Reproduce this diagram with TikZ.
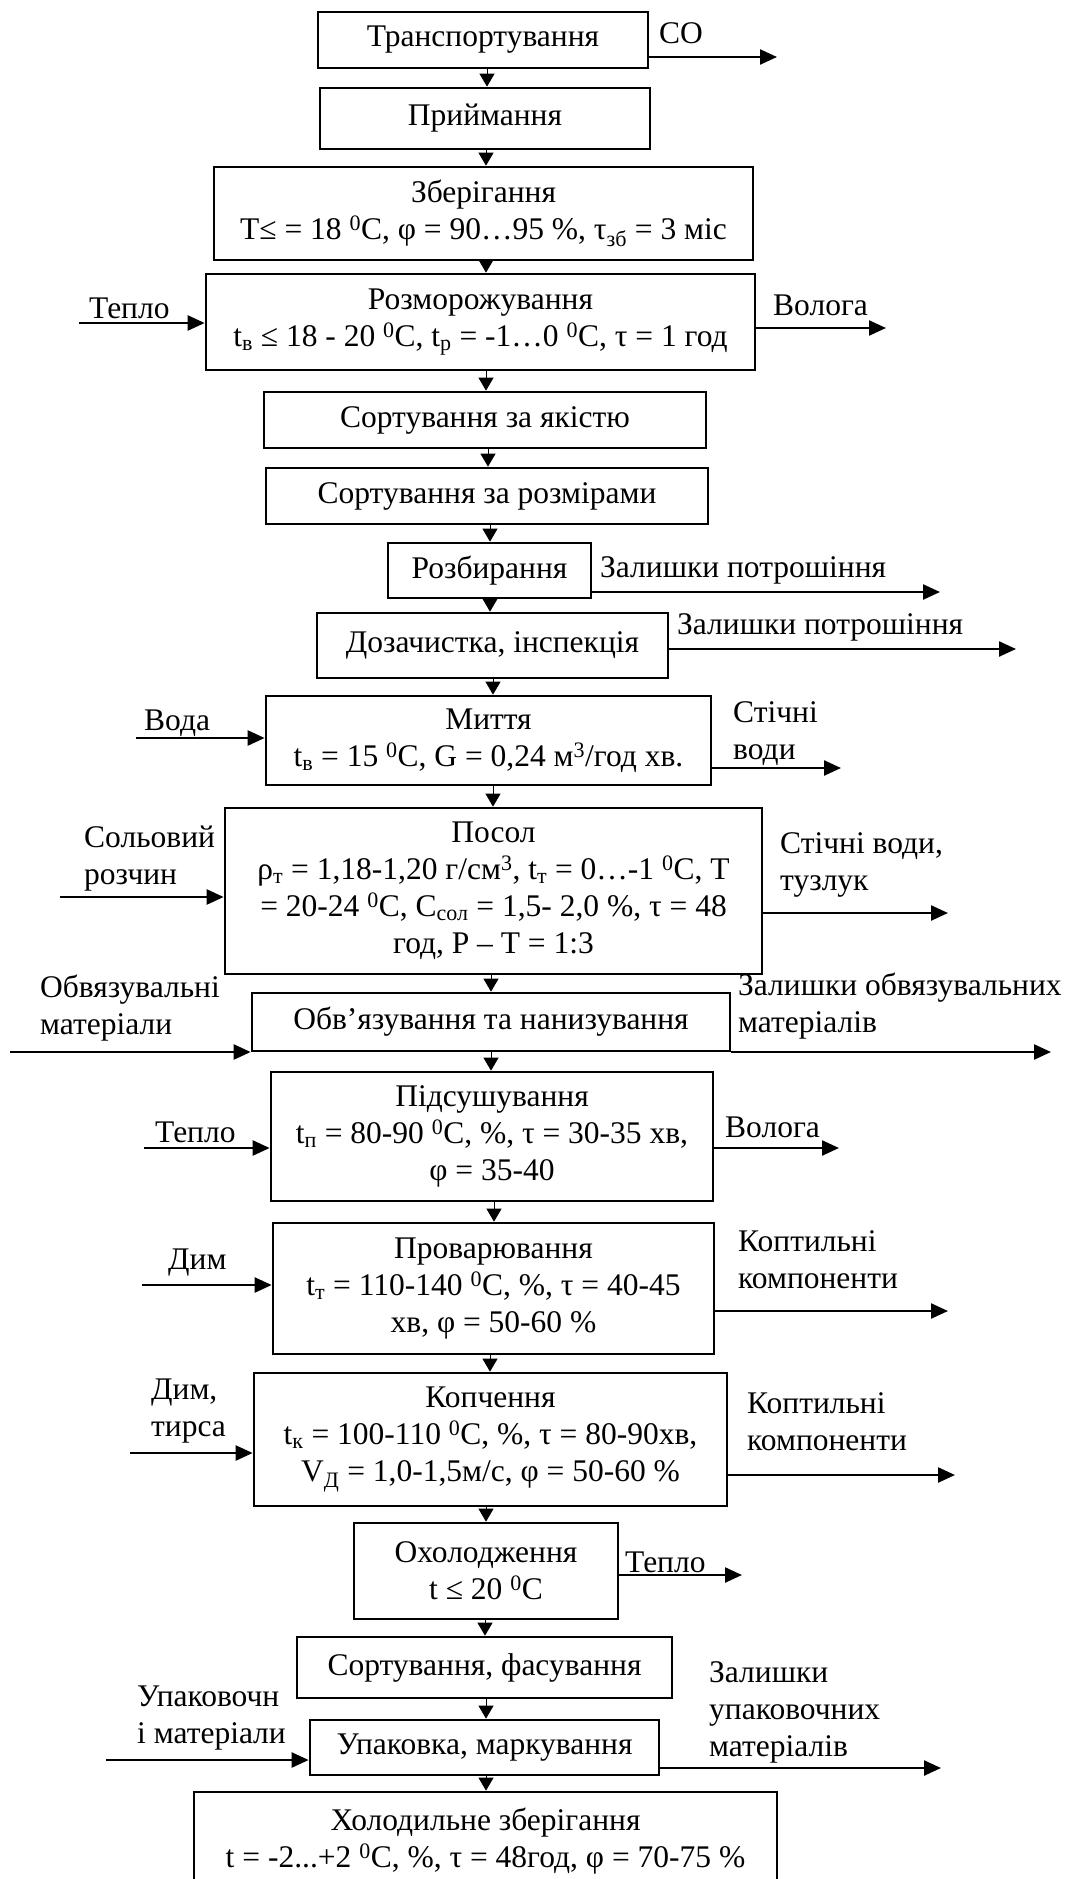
\documentclass[tikz,border=0pt]{standalone}
\usepackage{fontspec}
\setmainfont{Liberation Serif}
\usetikzlibrary{arrows.meta}
\tikzset{
  box/.style={draw, line width=2.7pt, inner sep=0pt, align=center, font=\fontsize{31.5}{37}\selectfont},
  lbl/.style={inner sep=0pt, anchor=west, align=left, font=\fontsize{31.5}{37}\selectfont},
  side/.style={line width=2.4pt, -{Triangle[length=17pt,width=15pt]}},
  vconn/.style={line width=1pt, -{Triangle[length=13pt,width=15pt]}},
}
\newcommand{\supx}[1]{\textsuperscript{#1}}
\newcommand{\sbs}[1]{\textsubscript{#1}}
\begin{document}
\begin{tikzpicture}[x=1pt,y=-1pt]
\useasboundingbox (0,0) rectangle (1077,1879);
% boxes
\node[box, minimum width=330pt, minimum height=56pt] (b1) at (483,40) {Транспортування};
\node[box, minimum width=330pt, minimum height=61pt] (b2) at (485,118.5) {Приймання};
\node[box, minimum width=539pt, minimum height=93pt] (b3) at (483.5,213.5) {Зберігання\\T≤ = 18 \supx{0}C, φ = 90…95 \%, τ\sbs{зб} = 3 міс};
\node[box, minimum width=549pt, minimum height=96pt] (b4) at (480.5,322) {Розморожування\\t\sbs{в} ≤ 18 - 20 \supx{0}C, t\sbs{р} = -1…0 \supx{0}C, τ = 1 год};
\node[box, minimum width=442pt, minimum height=56pt] (b5) at (485,420) {Сортування за якістю};
\node[box, minimum width=442pt, minimum height=56pt] (b6) at (487,496) {Сортування за розмірами};
\node[box, minimum width=203pt, minimum height=55pt] (b7) at (489.5,570.5) {Розбирання};
\node[box, minimum width=351pt, minimum height=65pt] (b8) at (492.5,645.5) {Дозачистка, інспекція};
\node[box, minimum width=445pt, minimum height=89pt] (b9) at (488.5,740.5) {Миття\\t\sbs{в} = 15 \supx{0}C, G = 0,24 м\supx{3}/год хв.};
\node[box, minimum width=537pt, minimum height=166pt] (b10) at (493.5,891) {Посол\\ρ\sbs{т} = 1,18-1,20 г/см\supx{3}, t\sbs{т} = 0…-1 \supx{0}C, T\\= 20-24 \supx{0}C, C\sbs{сол} = 1,5- 2,0 \%, τ = 48\\год, Р – Т = 1:3};
\node[box, minimum width=478pt, minimum height=58pt] (b11) at (491,1022) {Обв’язування та нанизування};
\node[box, minimum width=442pt, minimum height=129pt] (b12) at (492,1136.5) {Підсушування\\t\sbs{п} = 80-90 \supx{0}C, \%, τ = 30-35 хв,\\φ = 35-40};
\node[box, minimum width=441pt, minimum height=131pt] (b13) at (493.5,1288.5) {Проварювання\\t\sbs{т} = 110-140 \supx{0}C, \%, τ = 40-45\\хв, φ = 50-60 \%};
\node[box, minimum width=473pt, minimum height=133pt] (b14) at (490.5,1439.5) {Копчення\\t\sbs{к} = 100-110 \supx{0}C, \%, τ = 80-90хв,\\V\sbs{Д} = 1,0-1,5м/с, φ = 50-60 \%};
\node[box, minimum width=264pt, minimum height=96pt] (b15) at (486,1571) {Охолодження\\t ≤ 20 \supx{0}C};
\node[box, minimum width=375pt, minimum height=61pt] (b16) at (484.5,1667.5) {Сортування, фасування};
\node[box, minimum width=349pt, minimum height=55pt] (b17) at (484.5,1747.5) {Упаковка, маркування};
\node[box, minimum width=583pt, minimum height=98pt] (b18) at (485.5,1841) {Холодильне зберігання\\t = -2...+2 \supx{0}C, \%, τ = 48год, φ = 70-75 \%};
% vertical connectors
\draw[vconn] (b1.south -| 487,0) -- (b2.north -| 487,0);
\draw[vconn] (b2.south -| 486,0) -- (b3.north -| 486,0);
\draw[vconn] (b3.south -| 486,0) -- (b4.north -| 486,0);
\draw[vconn] (b4.south -| 486,0) -- (b5.north -| 486,0);
\draw[vconn] (b5.south -| 488,0) -- (b6.north -| 488,0);
\draw[vconn] (b6.south -| 490,0) -- (b7.north -| 490,0);
\draw[vconn] (b7.south -| 490,0) -- (b8.north -| 490,0);
\draw[vconn] (b8.south -| 493,0) -- (b9.north -| 493,0);
\draw[vconn] (b9.south -| 493,0) -- (b10.north -| 493,0);
\draw[vconn] (b10.south -| 491,0) -- (b11.north -| 491,0);
\draw[vconn] (b11.south -| 491,0) -- (b12.north -| 491,0);
\draw[vconn] (b12.south -| 494,0) -- (b13.north -| 494,0);
\draw[vconn] (b13.south -| 490,0) -- (b14.north -| 490,0);
\draw[vconn] (b14.south -| 486,0) -- (b15.north -| 486,0);
\draw[vconn] (b15.south -| 485,0) -- (b16.north -| 485,0);
\draw[vconn] (b16.south -| 486,0) -- (b17.north -| 486,0);
\draw[vconn] (b17.south -| 486,0) -- (b18.north -| 486,0);
% side labels
\node[lbl] (t1) at (659,33) {СО};
\node[lbl] (t4a) at (89,308) {Тепло};
\node[lbl] (t4b) at (773,305) {Волога};
\node[lbl] (t7) at (600,570) {Залишки потрошіння};
\node[lbl] (t8) at (677,627) {Залишки потрошіння};
\node[lbl] (t9a) at (144,723) {Вода};
\node[lbl] (t9b) at (733,734) {Стічні\\води};
\node[lbl] (t10a) at (84,859) {Сольовий\\розчин};
\node[lbl] (t10b) at (780,865) {Стічні води,\\тузлук};
\node[lbl] (t11a) at (40,1008.5) {Обвязувальні\\матеріали};
\node[lbl] (t11b) at (738,1006) {Залишки обвязувальних\\матеріалів};
\node[lbl] (t12a) at (155,1132) {Тепло};
\node[lbl] (t12b) at (725,1127) {Волога};
\node[lbl] (t13a) at (168,1263) {Дим};
\node[lbl] (t13b) at (738,1260) {Коптильні\\компоненти};
\node[lbl] (t14a) at (151,1411.5) {Дим,\\тирса};
\node[lbl] (t14b) at (747,1421.5) {Коптильні\\компоненти};
\node[lbl] (t15) at (625,1562) {Тепло};
\node[lbl] (t17a) at (137,1718.5) {Упаковочн\\і матеріали};
\node[lbl] (t17b) at (709,1712.5) {Залишки\\упаковочних\\матеріалів};
% side arrows
\coordinate (o1) at (777,57); \draw[side] (o1 -| b1.east) -- (o1);
\coordinate (i4) at (79,323); \draw[side] (i4) -- (i4 -| b4.west);
\coordinate (o4) at (886,328); \draw[side] (o4 -| b4.east) -- (o4);
\coordinate (o7) at (940,592); \draw[side] (o7 -| b7.east) -- (o7);
\coordinate (o8) at (1016,649); \draw[side] (o8 -| b8.east) -- (o8);
\coordinate (i9) at (136,738); \draw[side] (i9) -- (i9 -| b9.west);
\coordinate (o9) at (841,768); \draw[side] (o9 -| b9.east) -- (o9);
\coordinate (i10) at (60,897); \draw[side] (i10) -- (i10 -| b10.west);
\coordinate (o10) at (948,913); \draw[side] (o10 -| b10.east) -- (o10);
\coordinate (i11) at (10,1052); \draw[side] (i11) -- (i11 -| b11.west);
\coordinate (o11) at (1051,1052); \draw[side] (o11 -| b11.east) -- (o11);
\coordinate (i12) at (144,1148); \draw[side] (i12) -- (i12 -| b12.west);
\coordinate (o12) at (839,1148); \draw[side] (o12 -| b12.east) -- (o12);
\coordinate (i13) at (142,1285); \draw[side] (i13) -- (i13 -| b13.west);
\coordinate (o13) at (948,1311); \draw[side] (o13 -| b13.east) -- (o13);
\coordinate (i14) at (130,1453); \draw[side] (i14) -- (i14 -| b14.west);
\coordinate (o14) at (955,1475); \draw[side] (o14 -| b14.east) -- (o14);
\coordinate (o15) at (742,1575); \draw[side] (o15 -| b15.east) -- (o15);
\coordinate (i17) at (106,1760); \draw[side] (i17) -- (i17 -| b17.west);
\coordinate (o17) at (941,1768); \draw[side] (o17 -| b17.east) -- (o17);
\end{tikzpicture}
\end{document}
